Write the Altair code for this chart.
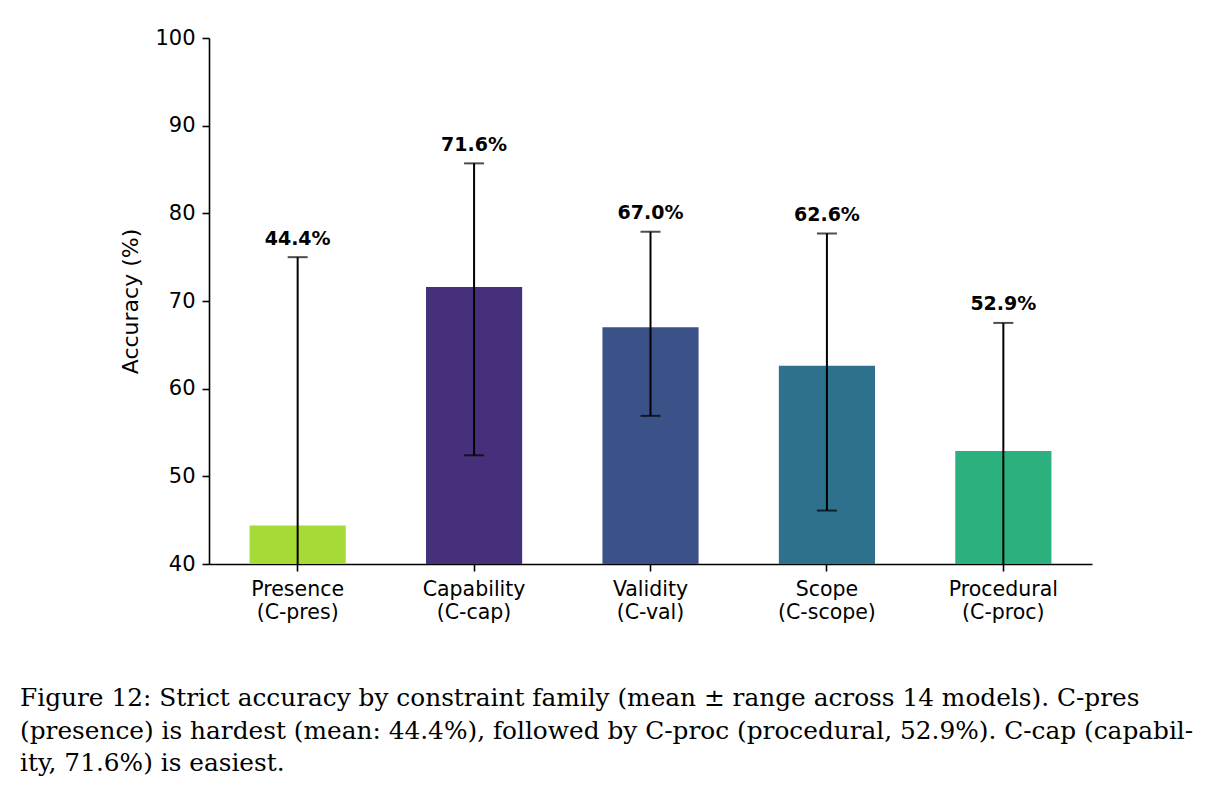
import altair as alt
import pandas as pd

# categories (name|code), means and ranges across models
families = ["Presence|(C-pres)", "Capability|(C-cap)", "Validity|(C-val)",
            "Scope|(C-scope)", "Procedural|(C-proc)"]
means = [44.4, 71.6, 67.0, 62.6, 52.9]
lows = [14.0, 52.4, 56.9, 46.1, 30.0]
highs = [75.0, 85.7, 77.9, 77.7, 67.5]
colors = ["#a6da36", "#46307b", "#3b5289", "#2e718d", "#2cb17e"]
y_ticks = [40, 50, 60, 70, 80, 90, 100]

caption = [
    "Figure 12: Strict accuracy by constraint family (mean \u00b1 range across 14 models). C-pres",
    "(presence) is hardest (mean: 44.4%), followed by C-proc (procedural, 52.9%). C-cap (capabil-",
    "ity, 71.6%) is easiest.",
]

df = pd.DataFrame({
    "family": families,
    "mean": means,
    "lo": lows,
    "hi": highs,
    "label": [f"{m:.1f}%" for m in means],
})

FONT = "DejaVu Sans"

x = alt.X(
    "family:N", sort=None,
    scale=alt.Scale(paddingInner=0.455, paddingOuter=0.23),
    axis=alt.Axis(
        title=None, labelAngle=0, labelExpr="split(datum.label, '|')",
        labelFont=FONT, labelFontSize=20.5, labelColor="black",
        labelLineHeight=23.5, labelPadding=8, tickSize=7, tickWidth=1.6,
        tickColor="black", domainColor="black", domainWidth=1.6,
        labelBaseline="top",
    ),
)

ysc = alt.Scale(domain=[40, 100], nice=False, zero=False)
yaxis = alt.Axis(
    title="Accuracy (%)", values=y_ticks, grid=False,
    labelFont=FONT, labelFontSize=21, labelColor="black", labelPadding=7,
    tickSize=7, tickWidth=1.6, tickColor="black",
    domainColor="black", domainWidth=1.6,
    titleFont=FONT, titleFontSize=22, titleFontWeight="normal",
    titleColor="black", titlePadding=12,
)

base = alt.Chart(df)

bars = base.mark_bar(clip=True).encode(
    x=x,
    y=alt.Y("mean:Q", scale=ysc, axis=yaxis),
    y2=alt.datum(40),
    color=alt.Color("family:N", sort=None,
                    scale=alt.Scale(domain=families, range=colors), legend=None),
)

rules = base.mark_rule(color="black", strokeWidth=2, clip=True).encode(
    x=alt.X("family:N", sort=None),
    y=alt.Y("lo:Q", scale=ysc),
    y2="hi:Q",
)

cap_hi = base.mark_tick(color="black", thickness=2, size=20, clip=True).encode(
    x=alt.X("family:N", sort=None),
    y=alt.Y("hi:Q", scale=ysc),
)
cap_lo = base.mark_tick(color="black", thickness=2, size=20, clip=True).encode(
    x=alt.X("family:N", sort=None),
    y=alt.Y("lo:Q", scale=ysc),
)

text = base.mark_text(
    font=FONT, fontSize=19, fontWeight="bold", color="black",
    baseline="alphabetic", dy=-12.5,
).encode(
    x=alt.X("family:N", sort=None),
    y=alt.Y("hi:Q", scale=ysc),
    text="label:N",
)

chart = alt.layer(bars, rules, cap_hi, cap_lo, text).properties(
    width=883,
    height=526,
    background="white",
    autosize=alt.AutoSizeParams(type="none"),
    padding={"left": 209, "top": 38, "right": 132, "bottom": 233},
    title=alt.TitleParams(
        text=caption, orient="bottom", anchor="start", frame="group",
        dx=-189, offset=63, font="DejaVu Serif", fontSize=24.8,
        fontWeight="normal", color="black", lineHeight=32.5, baseline="top",
    ),
).configure_view(strokeWidth=0, stroke="transparent")

chart.save("out.html", embed_options={"renderer": "svg", "actions": False})
